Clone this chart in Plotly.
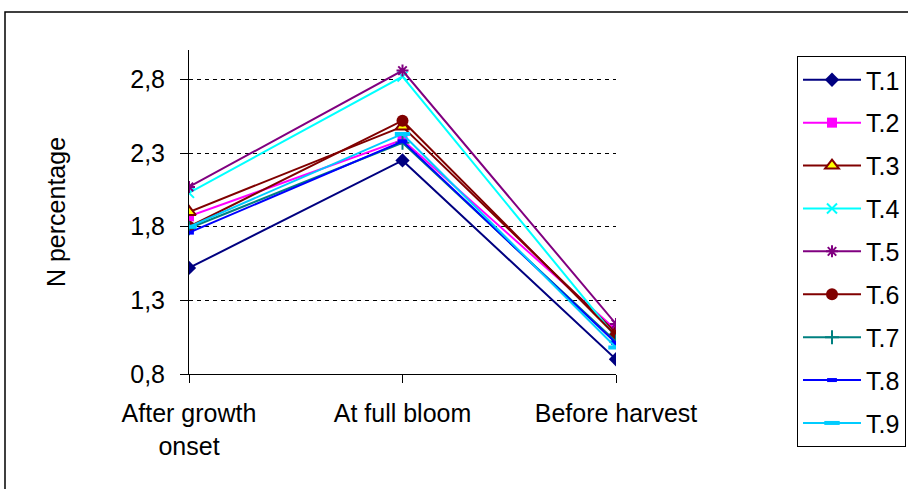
import plotly.graph_objects as go

stages = ["After growth<br>onset", "At full bloom", "Before harvest"]
series_names = ["T.1", "T.2", "T.3", "T.4", "T.5", "T.6", "T.7", "T.8", "T.9"]
t1 = [1.52, 2.25, 0.90]
t2 = [1.87, 2.39, 1.10]
t3 = [1.90, 2.48, 1.08]
t4 = [2.03, 2.82, 1.05]
t5 = [2.07, 2.86, 1.14]
t6 = [1.80, 2.52, 1.06]
t7 = [1.79, 2.37, 1.02]
t8 = [1.76, 2.38, 1.01]
t9 = [1.80, 2.43, 0.98]
all_values = [t1, t2, t3, t4, t5, t6, t7, t8, t9]
y_ticks = [0.8, 1.3, 1.8, 2.3, 2.8]

styles = [
    dict(line="#000080", symbol="diamond", size=11, fill="#000080", mline="#000080", mw=0),
    dict(line="#FF00FF", symbol="square", size=10, fill="#FF00FF", mline="#FF00FF", mw=0),
    dict(line="#800000", symbol="triangle-up", size=12, fill="#FFFF00", mline="#800000", mw=2),
    dict(line="#00FFFF", symbol="x-thin-open", size=10, fill="#00FFFF", mline="#00FFFF", mw=2),
    dict(line="#800080", symbol="asterisk-open", size=10, fill="#800080", mline="#800080", mw=2),
    dict(line="#800000", symbol="circle", size=12, fill="#800000", mline="#800000", mw=0),
    dict(line="#008080", symbol="cross-thin-open", size=10, fill="#008080", mline="#008080", mw=2),
    dict(line="#0000FF", symbol="line-ew-open", size=7, fill="#0000FF", mline="#0000FF", mw=4),
    dict(line="#00CCFF", symbol="line-ew-open", size=11, fill="#00CCFF", mline="#00CCFF", mw=4),
]

FONT = "Liberation Sans, Arial, sans-serif"
FS = 25

fig = go.Figure()
for name, vals, st in zip(series_names, all_values, styles):
    fig.add_trace(go.Scatter(
        x=stages, y=vals, name=name, mode="lines+markers",
        legendgroup=name,
        line=dict(color=st["line"], width=2),
        marker=dict(symbol=st["symbol"], size=st["size"], color=st["fill"],
                    line=dict(color=st["mline"], width=st["mw"])),
    ))

W, H = 908, 489
L = 189
T = 50
R = W - 616
B = H - 374
pw, ph = W - L - R, H - T - B

def px_x(px):
    return (px - L) / pw

def px_y(py):
    return (H - B - py) / ph

fig.update_layout(
    width=W, height=H,
    margin=dict(l=L, r=R, t=T, b=B, autoexpand=False),
    paper_bgcolor="white", plot_bgcolor="white",
    separators=",.",
    font=dict(family=FONT, size=FS, color="black"),
    showlegend=True,
    legend=dict(
        x=px_x(797), y=px_y(56), xanchor="left", yanchor="top",
        bordercolor="black", borderwidth=1, bgcolor="white",
        font=dict(family=FONT, size=FS, color="black"),
        traceorder="grouped", tracegroupgap=7.4, itemwidth=58,
        entrywidth=140, entrywidthmode="pixels",
        maxheight=460,
    ),
    xaxis=dict(
        type="category", range=[0, 2], showgrid=False,
        showline=True, linecolor="black", linewidth=1,
        ticks="outside", ticklen=8, tickcolor="black", ticklabelstandoff=9,
        tickfont=dict(family=FONT, size=FS, color="black"),
        zeroline=False,
    ),
    yaxis=dict(
        range=[0.8, 3.0], tickvals=y_ticks, tickformat=".1f",
        showline=True, linecolor="black", linewidth=1,
        ticks="outside", ticklen=8, tickcolor="black", ticklabelstandoff=10,
        showgrid=True, gridcolor="black", gridwidth=1, griddash="4px,4px",
        zeroline=False,
        tickfont=dict(family=FONT, size=FS, color="black"),
        title=dict(text="N percentage", font=dict(family=FONT, size=FS, color="black"), standoff=57),
    ),
    shapes=[dict(type="rect", xref="paper", yref="paper",
                 x0=px_x(5), x1=px_x(1200), y0=px_y(12), y1=px_y(800),
                 line=dict(color="black", width=1.5), layer="below")],
)

fig.write_html("out.html", config={"displayModeBar": False},
               post_script="document.body.style.margin='0px';")
